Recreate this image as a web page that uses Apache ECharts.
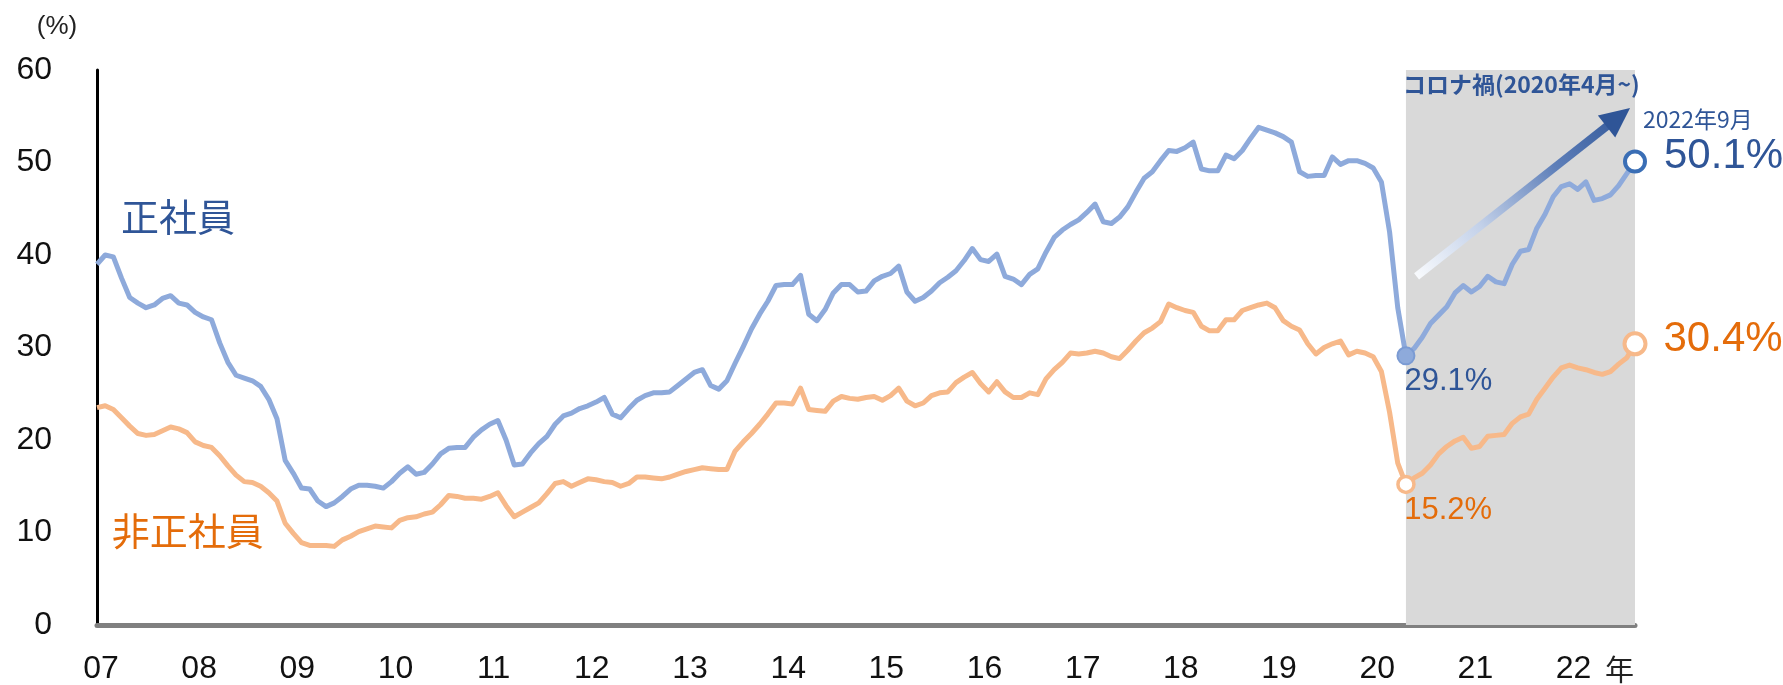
<!DOCTYPE html>
<html><head><meta charset="utf-8">
<script src="https://cdn.jsdelivr.net/npm/echarts@6/dist/echarts.min.js"></script>
<style>html,body{margin:0;padding:0;background:#fff}#c{width:1783px;height:685px}</style>
</head><body><div id="c"></div>
<script>
// ---------- data ----------
const startYear = 2007, endYear = 2022, endMonth = 9;
const months = [];
for (let y = startYear; y <= endYear; y++) {
  for (let m = 1; m <= 12; m++) {
    if (y === endYear && m > endMonth) break;
    months.push(y + '-' + String(m).padStart(2, '0'));
  }
}
// 正社員 (%)
const seishain = [
  39.0, 40.0, 39.8, 37.5, 35.4, 34.8, 34.3, 34.6, 35.3, 35.6,
  34.8, 34.6, 33.8, 33.3, 33.0, 30.5, 28.4, 27.0, 26.7, 26.4,
  25.8, 24.4, 22.3, 17.8, 16.4, 14.8, 14.7, 13.4, 12.8, 13.2,
  13.9, 14.7, 15.1, 15.1, 15.0, 14.8, 15.5, 16.4, 17.1, 16.3,
  16.5, 17.4, 18.5, 19.1, 19.2, 19.2, 20.3, 21.1, 21.7, 22.1,
  20.0, 17.3, 17.4, 18.6, 19.6, 20.4, 21.7, 22.6, 22.9, 23.4,
  23.7, 24.1, 24.6, 22.8, 22.4, 23.4, 24.3, 24.8, 25.1, 25.1,
  25.2, 25.9, 26.6, 27.3, 27.6, 25.9, 25.5, 26.4, 28.3, 30.1,
  32.0, 33.6, 35.0, 36.7, 36.8, 36.8, 37.8, 33.6, 32.9, 34.1,
  35.9, 36.8, 36.8, 36.0, 36.1, 37.2, 37.7, 38.0, 38.8, 36.0,
  35.0, 35.4, 36.1, 37.0, 37.6, 38.3, 39.4, 40.7, 39.5, 39.3,
  40.1, 37.7, 37.4, 36.8, 37.9, 38.5, 40.3, 41.9, 42.7, 43.3,
  43.8, 44.6, 45.5, 43.6, 43.4, 44.1, 45.2, 46.8, 48.3, 49.0,
  50.2, 51.3, 51.2, 51.6, 52.2, 49.3, 49.1, 49.1, 50.8, 50.4,
  51.3, 52.6, 53.8, 53.5, 53.2, 52.8, 52.2, 49.0, 48.5, 48.6,
  48.6, 50.6, 49.8, 50.2, 50.2, 49.9, 49.4, 47.9, 42.5, 34.3,
  29.1, 29.9, 31.1, 32.6, 33.5, 34.4, 35.9, 36.7, 36.0, 36.6,
  37.7, 37.1, 36.9, 39.0, 40.4, 40.6, 42.9, 44.4, 46.3, 47.4,
  47.7, 47.1, 47.9, 45.9, 46.1, 46.5, 47.5, 48.8, 50.1
];
// 非正社員 (%)
const hiseishain = [
  23.5, 23.7, 23.3, 22.4, 21.5, 20.7, 20.5, 20.6, 21.0, 21.4,
  21.2, 20.8, 19.8, 19.4, 19.2, 18.3, 17.2, 16.2, 15.5, 15.4,
  15.0, 14.3, 13.4, 11.0, 9.9, 8.9, 8.6, 8.6, 8.6, 8.5,
  9.2, 9.6, 10.1, 10.4, 10.7, 10.6, 10.5, 11.3, 11.6, 11.7,
  12.0, 12.2, 13.0, 14.0, 13.9, 13.7, 13.7, 13.6, 13.9, 14.3,
  12.9, 11.7, 12.2, 12.7, 13.2, 14.2, 15.3, 15.5, 15.0, 15.4,
  15.8, 15.7, 15.5, 15.4, 15.0, 15.3, 16.0, 16.0, 15.9, 15.8,
  16.0, 16.3, 16.6, 16.8, 17.0, 16.9, 16.8, 16.8, 18.8, 19.8,
  20.7, 21.7, 22.8, 24.0, 24.0, 23.9, 25.6, 23.3, 23.2, 23.1,
  24.2, 24.7, 24.5, 24.4, 24.6, 24.7, 24.3, 24.8, 25.6, 24.2,
  23.7, 24.0, 24.8, 25.1, 25.2, 26.2, 26.8, 27.3, 26.1, 25.2,
  26.3, 25.2, 24.6, 24.6, 25.1, 24.9, 26.6, 27.6, 28.4, 29.4,
  29.3, 29.4, 29.6, 29.4, 29.0, 28.8, 29.7, 30.7, 31.6, 32.1,
  32.8, 34.7, 34.3, 34.0, 33.8, 32.3, 31.8, 31.8, 33.0, 33.0,
  34.0, 34.3, 34.6, 34.8, 34.3, 32.9, 32.3, 31.9, 30.4, 29.3,
  30.0, 30.4, 30.7, 29.2, 29.6, 29.4, 29.0, 27.4, 23.0, 17.5,
  15.2, 15.9, 16.4, 17.3, 18.5, 19.3, 19.9, 20.3, 19.1, 19.3,
  20.4, 20.5, 20.6, 21.8, 22.5, 22.8, 24.4, 25.6, 26.8, 27.8,
  28.1, 27.8, 27.6, 27.3, 27.1, 27.4, 28.2, 28.9, 30.4
];
const seriesNames = ['正社員', '非正社員'];
const yMin = 0, yMax = 60, yInterval = 10;
const covidLabel = 'コロナ禍(2020年4月~)';
const covidFrom = '2020-04';
const shadeStart = '2020-05';
const yearSuffix = '年';

// ---------- derived ----------
const last = months.length - 1;
const covidIdx = months.indexOf(covidFrom);
function argminFrom(arr, from) {
  let k = from;
  for (let i = from; i < arr.length; i++) if (arr[i] < arr[k]) k = i;
  return k;
}
const troughA = argminFrom(seishain, covidIdx);
const troughB = argminFrom(hiseishain, covidIdx);
const endMonthLabel = months[last].slice(0, 4) + '年' + parseInt(months[last].slice(5), 10) + '月';
const pct = v => v.toFixed(1) + '%';

// ---------- style ----------
const BLUE_LINE = '#8EAADB', ORANGE_LINE = '#F7B98A';
const BLUE_TEXT = '#2F5597', ORANGE_TEXT = '#E46C0A';
const NUM_FONT = '"Liberation Sans", Arial, sans-serif';
const CJK_FONT = '"Noto Sans CJK JP", sans-serif';

const chart = echarts.init(document.getElementById('c'), null, { renderer: 'canvas' });

const option = {
  animation: false,
  backgroundColor: '#fff',
  grid: { left: 97, right: 148, top: 70, bottom: 60, containLabel: false },
  xAxis: {
    type: 'category',
    data: months,
    boundaryGap: false,
    axisLine: { lineStyle: { color: '#808080', width: 5 } },
    axisTick: { show: false },
    splitLine: { show: false },
    axisLabel: {
      interval: (idx) => idx % 12 === 0,
      formatter: (v) => v.slice(2, 4),
      fontFamily: NUM_FONT, fontSize: 32, color: '#111',
      margin: 28, padding: [0, 0, 0, 8]
    }
  },
  yAxis: {
    type: 'value',
    min: yMin, max: yMax, interval: yInterval,
    axisLine: { show: true, lineStyle: { color: '#000', width: 3 } },
    axisTick: { show: false },
    splitLine: { show: false },
    axisLabel: { fontFamily: NUM_FONT, fontSize: 32, color: '#111', margin: 45, padding: [0, 0, 10, 0] },
    name: '(%)',
    nameLocation: 'end',
    nameGap: 30,
    nameTextStyle: { fontFamily: NUM_FONT, fontSize: 26, color: '#222', align: 'center', verticalAlign: 'bottom', padding: [0, 80, 0, 0] }
  },
  series: [
    {
      name: seriesNames[0], type: 'line', data: seishain,
      symbol: 'none', z: 3,
      lineStyle: { color: BLUE_LINE, width: 5, join: 'round' },
      itemStyle: { color: BLUE_LINE },
      markArea: {
        silent: true, z: 1,
        itemStyle: { color: '#D9D9D9' },
        label: {
          show: true, position: 'insideTopLeft', distance: 0, offset: [-3, 3],
          formatter: covidLabel,
          fontFamily: CJK_FONT, fontSize: 23, fontWeight: 'bold', color: BLUE_TEXT
        },
        data: [[{ xAxis: shadeStart }, { xAxis: months[last] }]]
      },
      markPoint: {
        silent: true,
        data: [
          {
            coord: [months[troughA], seishain[troughA]], symbol: 'circle', symbolSize: 17,
            itemStyle: { color: BLUE_LINE, borderColor: '#7B9BD3', borderWidth: 2 },
            label: { show: true, formatter: pct(seishain[troughA]), position: [8, 20], align: 'left', verticalAlign: 'top',
              fontFamily: NUM_FONT, fontSize: 31, color: BLUE_TEXT }
          },
          {
            coord: [months[last], seishain[last]], symbol: 'circle', symbolSize: 20,
            itemStyle: { color: '#fff', borderColor: '#3A6EB5', borderWidth: 4 },
            label: {
              show: true, position: 'right', distance: 0, offset: [-4, -20], align: 'left',
              formatter: '{d|' + endMonthLabel + '}\n{v|' + pct(seishain[last]) + '}',
              rich: {
                d: { fontFamily: CJK_FONT, fontSize: 23, color: BLUE_TEXT, lineHeight: 30, align: 'left' },
                v: { fontFamily: NUM_FONT, fontSize: 42, color: BLUE_TEXT, lineHeight: 44, padding: [0, 0, 0, 21], align: 'left' }
              }
            }
          }
        ]
      }
    },
    {
      name: seriesNames[1], type: 'line', data: hiseishain,
      symbol: 'none', z: 3,
      lineStyle: { color: ORANGE_LINE, width: 5, join: 'round' },
      itemStyle: { color: ORANGE_LINE },
      markPoint: {
        silent: true,
        data: [
          {
            coord: [months[troughB], hiseishain[troughB]], symbol: 'circle', symbolSize: 16,
            itemStyle: { color: '#fff', borderColor: ORANGE_LINE, borderWidth: 3.5 },
            label: { show: true, formatter: pct(hiseishain[troughB]), position: [8, 20], align: 'left', verticalAlign: 'top',
              fontFamily: NUM_FONT, fontSize: 31, color: ORANGE_TEXT }
          },
          {
            coord: [months[last], hiseishain[last]], symbol: 'circle', symbolSize: 21,
            itemStyle: { color: '#fff', borderColor: ORANGE_LINE, borderWidth: 4 },
            label: { show: true, formatter: pct(hiseishain[last]), position: 'right', distance: 16, offset: [0, -4],
              fontFamily: NUM_FONT, fontSize: 42, color: ORANGE_TEXT }
          }
        ]
      }
    }
  ]
};
chart.setOption(option);

// ---------- annotations anchored in data space ----------
function px(i, v) {
  const a = chart.convertToPixel({ gridIndex: 0 }, [0, v]);
  const b = chart.convertToPixel({ gridIndex: 0 }, [last, v]);
  return [a[0] + (b[0] - a[0]) * i / last, a[1]];
}
const nameAnchors = [
  { text: seriesNames[0], i: 9.9, v: 44.2, color: BLUE_TEXT },
  { text: seriesNames[1], i: 11.1, v: 10.2, color: ORANGE_TEXT }
];
const arrowFrom = { i: 161.3, v: 37.7 }, arrowTo = { i: 187.4, v: 55.9 };

const tail = px(arrowFrom.i, arrowFrom.v), tip = px(arrowTo.i, arrowTo.v);
const dx = tip[0] - tail[0], dy = tip[1] - tail[1], len = Math.hypot(dx, dy);
const ux = dx / len, uy = dy / len, nx = -uy, ny = ux;
const headL = 30, headW = 14;
const base = [tip[0] - ux * headL, tip[1] - uy * headL];
const grad = new echarts.graphic.LinearGradient(tail[0], tail[1], tip[0], tip[1], [
  { offset: 0, color: '#F8FAFD' },
  { offset: 0.3, color: '#C3D1E9' },
  { offset: 0.65, color: '#5E7FB9' },
  { offset: 1, color: '#2F5597' }
], true);

const graphics = nameAnchors.map(a => {
  const p = px(a.i, a.v);
  return {
    type: 'text', x: p[0], y: p[1], z: 10, silent: true,
    style: { text: a.text, fill: a.color, font: '38px ' + CJK_FONT, align: 'center', verticalAlign: 'middle' }
  };
});
// "年" suffix beside the last year label
const yrPos = px(last - 1.9, 0);
graphics.push({
  type: 'text', x: yrPos[0], y: yrPos[1] + 45, z: 10, silent: true,
  style: { text: yearSuffix, fill: '#222', font: '29px ' + CJK_FONT, align: 'center', verticalAlign: 'middle' }
});
graphics.push({
  type: 'line', z: 4, silent: true,
  shape: { x1: tail[0], y1: tail[1], x2: base[0] + ux * 2, y2: base[1] + uy * 2 },
  style: { stroke: grad, lineWidth: 8, lineCap: 'butt' }
});
graphics.push({
  type: 'polygon', z: 4, silent: true,
  shape: { points: [tip, [base[0] + nx * headW, base[1] + ny * headW], [base[0] - nx * headW, base[1] - ny * headW]] },
  style: { fill: '#2F5597' }
});
chart.setOption({ graphic: graphics });
</script>
</body></html>
